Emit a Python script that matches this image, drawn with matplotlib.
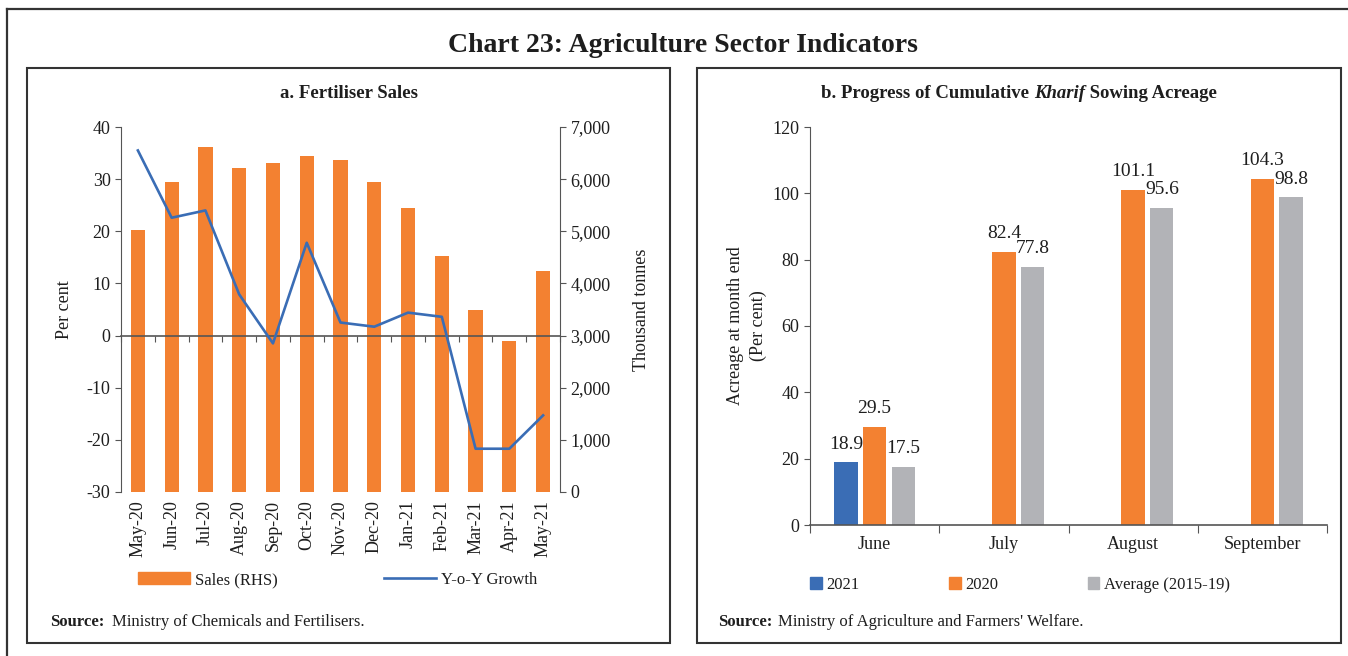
import numpy as np
import matplotlib.pyplot as plt
from matplotlib.lines import Line2D
from matplotlib.patches import Rectangle, Patch
from matplotlib.ticker import FuncFormatter

W, H = 1348, 656
plt.rcParams['font.family'] = ['Liberation Serif', 'DejaVu Serif']
plt.rcParams['axes.unicode_minus'] = False

### Data.

months = ['May-20', 'Jun-20', 'Jul-20', 'Aug-20', 'Sep-20', 'Oct-20', 'Nov-20',
          'Dec-20', 'Jan-21', 'Feb-21', 'Mar-21', 'Apr-21', 'May-21']
sales = [5020, 5945, 6615, 6215, 6310, 6445, 6365, 5945, 5445, 4525, 3490, 2895, 4240]
growth = [35.5, 22.6, 24.0, 7.9, -1.5, 17.8, 2.5, 1.7, 4.4, 3.6, -21.7, -21.7, -15.3]

sow_months = ['June', 'July', 'August', 'September']
sow_2021 = [18.9, np.nan, np.nan, np.nan]
sow_2020 = [29.5, 82.4, 101.1, 104.3]
sow_avg = [17.5, 77.8, 95.6, 98.8]

ORANGE = '#F38131'
BLUE = '#3A6DB5'
GREY = '#B2B3B7'
SPINE = '#555555'
TXT = '#1e1e1e'


def fx(x):
    return x / W


def fy(y):
    return 1 - y / H


def axes_px(fig, x0, y0, x1, y1):
    return fig.add_axes([fx(x0), fy(y1), (x1 - x0) / W, (y1 - y0) / H])


fig = plt.figure(figsize=(W / 100, H / 100), dpi=100)

### Frames.

fig.add_artist(Line2D([fx(7), fx(W)], [fy(9), fy(9)], color='#333333', lw=1.6))
fig.add_artist(Line2D([fx(7), fx(7)], [fy(9), fy(H)], color='#333333', lw=1.6))
for (x0, y0, x1, y1) in [(27, 68, 670, 643), (697, 68, 1341, 643)]:
    fig.add_artist(Rectangle((fx(x0), fy(y1)), (x1 - x0) / W, (y1 - y0) / H,
                             transform=fig.transFigure, fill=False,
                             ec='#333333', lw=1.5))

fig.text(fx(683), fy(42), 'Chart 23: Agriculture Sector Indicators',
         ha='center', va='center_baseline', fontsize=20, fontweight='bold', color=TXT)

### a. Fertiliser Sales.

ax = axes_px(fig, 121, 127, 560, 492)
ax2 = ax.twinx()
x = np.arange(len(months))

ax2.bar(x, sales, width=0.42, color=ORANGE, zorder=2)
ax2.set_ylim(0, 7000)
ax2.set_yticks(np.arange(0, 7001, 1000))
ax2.yaxis.set_major_formatter(FuncFormatter(lambda v, p: f'{int(v):,}'))

ax.plot(x, growth, color=BLUE, lw=1.9, zorder=3)
ax.set_ylim(-30, 40)
ax.set_yticks(np.arange(-30, 41, 10))
ax.set_xlim(-0.5, len(months) - 0.5)
ax.set_zorder(ax2.get_zorder() + 1)
ax.patch.set_visible(False)

for a in (ax, ax2):
    a.spines['top'].set_visible(False)
    a.spines['bottom'].set_visible(False)
    for s in ('left', 'right'):
        a.spines[s].set_color(SPINE)
    a.tick_params(axis='y', labelsize=13, colors=SPINE, labelcolor=TXT, length=4)
ax2.spines['left'].set_visible(False)
ax.spines['right'].set_visible(False)

ax.spines['bottom'].set_visible(True)
ax.spines['bottom'].set_position(('data', 0))
ax.spines['bottom'].set_color(SPINE)
ax.spines['bottom'].set_linewidth(1.2)
ax.set_xticks(np.arange(-0.5, len(months), 1.0))
ax.tick_params(axis='x', length=4, colors=SPINE, labelbottom=False)

sec = ax.secondary_xaxis('bottom')
sec.spines['bottom'].set_visible(False)
sec.set_xticks(x)
sec.set_xticklabels(months, rotation=90)
sec.tick_params(axis='x', length=0, labelsize=13, labelcolor=TXT, pad=6)

ax.set_ylabel('Per cent', fontsize=13, color=TXT, labelpad=10)
ax2.set_ylabel('Thousand tonnes', fontsize=13, color=TXT, labelpad=16)

fig.text(fx(349), fy(94), 'a. Fertiliser Sales', ha='center', va='center',
         fontsize=13.5, fontweight='bold', color=TXT)

handles = [Patch(color=ORANGE), Line2D([], [], color=BLUE, lw=1.9)]
fig.legend(handles, ['Sales (RHS)', 'Y-o-Y Growth'], loc='center left',
           bbox_to_anchor=(fx(123), fy(580)), ncol=2, frameon=False,
           fontsize=12, handlelength=3.1, handleheight=0.75, handletextpad=0.3,
           columnspacing=6.4, labelcolor=TXT)

fig.text(fx(50), fy(622), 'Source:', fontsize=12, va='center', fontweight='bold',
         color=TXT)
fig.text(fx(112), fy(622), 'Ministry of Chemicals and Fertilisers.', fontsize=12,
         va='center', color=TXT)

### b. Progress of Cumulative Kharif Sowing Acreage.

bx = axes_px(fig, 810, 127, 1327, 525)
xs = np.arange(len(sow_months))
off = 0.222
bw = 0.18

v21 = np.array(sow_2021)
m = ~np.isnan(v21)
b1 = bx.bar(xs[m] - off, v21[m], width=bw, color=BLUE)
b2 = bx.bar(xs, sow_2020, width=bw, color=ORANGE)
b3 = bx.bar(xs + off, sow_avg, width=bw, color=GREY)
for b in (b1, b2, b3):
    bx.bar_label(b, fmt='%.1f', padding=7, fontsize=14, color=TXT)

bx.set_xlim(-0.5, len(sow_months) - 0.5)
bx.set_ylim(0, 120)
bx.set_yticks(np.arange(0, 121, 20))
bx.set_xticks(np.arange(-0.5, len(sow_months), 1.0))
bx.tick_params(axis='x', length=6, colors=SPINE, labelbottom=False)
bx.tick_params(axis='y', labelsize=13, colors=SPINE, labelcolor=TXT, length=4)
for s in ('top', 'right'):
    bx.spines[s].set_visible(False)
for s in ('left', 'bottom'):
    bx.spines[s].set_color(SPINE)
bx.spines['bottom'].set_linewidth(1.2)

sec2 = bx.secondary_xaxis('bottom')
sec2.spines['bottom'].set_visible(False)
sec2.set_xticks(xs)
sec2.set_xticklabels(sow_months)
sec2.tick_params(axis='x', length=0, labelsize=13, labelcolor=TXT, pad=8)

bx.set_ylabel('Acreage at month end\n(Per cent)', fontsize=13, color=TXT,
              labelpad=4, linespacing=1.45)

# title with italic word
renderer = fig.canvas.get_renderer()
parts = [('b. Progress of Cumulative ', 'normal'), ('Kharif', 'italic'),
         (' Sowing Acreage', 'normal')]
texts = []
for s, st in parts:
    t = fig.text(0, fy(94), s, fontsize=13.5, fontweight='bold', fontstyle=st,
                 va='center', color=TXT)
    texts.append(t)
widths = [t.get_window_extent(renderer).width for t in texts]
xpos = 1019 - sum(widths) / 2
for t, w in zip(texts, widths):
    t.set_x(fx(xpos))
    xpos += w

handles = [Patch(color=BLUE), Patch(color=ORANGE), Patch(color=GREY)]
fig.legend(handles, ['2021', '2020', 'Average (2015-19)'], loc='center left',
           bbox_to_anchor=(fx(795), fy(585)), ncol=3, frameon=False,
           fontsize=12, handlelength=0.7, handleheight=0.7, handletextpad=0.25,
           columnspacing=5.4, labelcolor=TXT)

fig.text(fx(718), fy(622), 'Source:', fontsize=12, va='center', fontweight='bold',
         color=TXT)
fig.text(fx(778), fy(622), "Ministry of Agriculture and Farmers' Welfare.",
         fontsize=12, va='center', color=TXT)

fig.savefig('out.png', dpi=100)
